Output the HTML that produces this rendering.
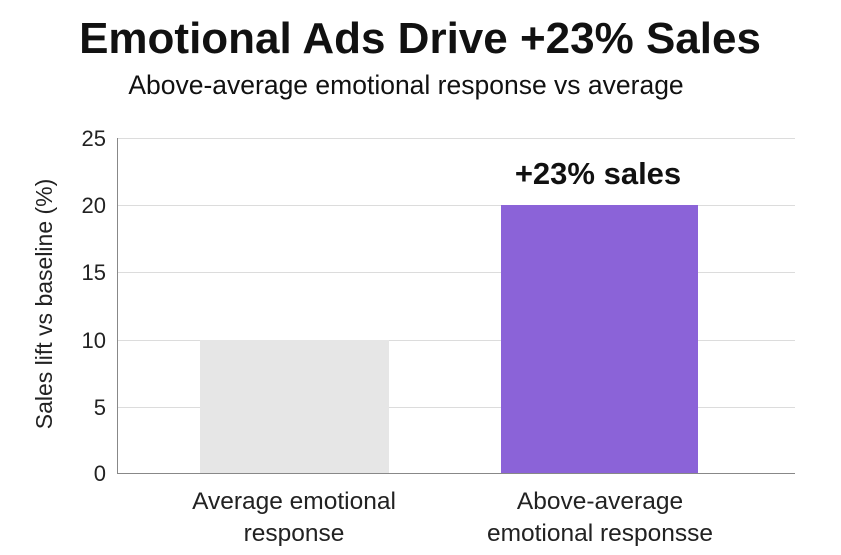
<!DOCTYPE html>
<html><head><meta charset="utf-8"><style>
body{margin:0;background:#fff;}
svg{display:block;font-family:"Liberation Sans",sans-serif;}
</style></head><body>
<svg width="841" height="555" viewBox="0 0 841 555">
<rect width="841" height="555" fill="#fff"/>
<text x="420" y="53" text-anchor="middle" font-size="44" font-weight="bold" fill="#111">Emotional Ads Drive +23% Sales</text>
<text x="406" y="94" text-anchor="middle" font-size="26.5" fill="#111">Above-average emotional response vs average</text>
<g stroke="#dcdcdc" stroke-width="1">
<line x1="117" y1="138.5" x2="795" y2="138.5"/>
<line x1="117" y1="205.5" x2="795" y2="205.5"/>
<line x1="117" y1="272.5" x2="795" y2="272.5"/>
<line x1="117" y1="340.5" x2="795" y2="340.5"/>
<line x1="117" y1="407.5" x2="795" y2="407.5"/>
</g>
<rect x="200" y="340" width="189" height="133" fill="#e6e6e6"/>
<rect x="501" y="205" width="197" height="268" fill="#8b63d8"/>
<line x1="117.5" y1="138" x2="117.5" y2="474" stroke="#888" stroke-width="1"/>
<line x1="117" y1="473.5" x2="795" y2="473.5" stroke="#888" stroke-width="1"/>
<g font-size="22" fill="#222" text-anchor="end">
<text x="106" y="146">25</text>
<text x="106" y="213">20</text>
<text x="106" y="280">15</text>
<text x="106" y="348">10</text>
<text x="106" y="415">5</text>
<text x="106" y="481">0</text>
</g>
<text transform="translate(52,304) rotate(-90)" text-anchor="middle" font-size="23" fill="#222">Sales lift vs baseline (%)</text>
<text x="598" y="184" text-anchor="middle" font-size="31" font-weight="bold" fill="#111">+23% sales</text>
<g font-size="24.5" fill="#222" text-anchor="middle">
<text x="294" y="509">Average emotional</text>
<text x="294" y="541">response</text>
<text x="600" y="509">Above-average</text>
<text x="600" y="541">emotional responsse</text>
</g>
</svg>
</body></html>
